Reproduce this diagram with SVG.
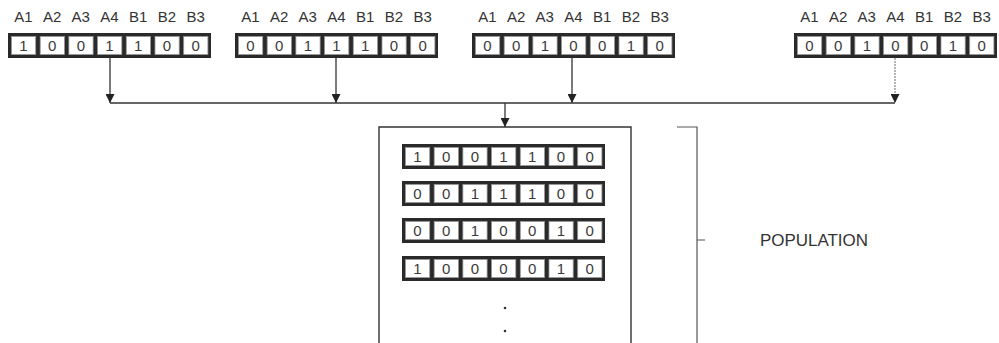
<svg xmlns="http://www.w3.org/2000/svg" xmlns:xlink="http://www.w3.org/1999/xlink" width="999" height="343" viewBox="0 0 999 343">
  <style>
    .lbl { font-family: "Liberation Sans", Arial, sans-serif; font-size: 15px; fill: #333; text-anchor: middle; }
    .bit { font-family: "Liberation Sans", Arial, sans-serif; font-size: 15px; fill: #3a3a3a; text-anchor: middle; }
    .wire { stroke: #333; stroke-width: 1.3; fill: none; }
    .faint { stroke: #777; stroke-width: 1.1; fill: none; stroke-dasharray: 2 1; }
    .frame { stroke: #333; stroke-width: 1.4; fill: none; }
    .title { font-family: "Liberation Sans", Arial, sans-serif; font-size: 16px; fill: #333; }
  </style>
  <defs>
    <!-- seven-cell chromosome strip: dark frame with white gene cells -->
    <g id="strip">
      <rect x="0" y="0" width="203" height="25" fill="#2a2a2a"/>
      <g fill="#fff" stroke="#999" stroke-width="0.8">
        <rect x="3.5" y="3.5" width="24.2" height="18"/>
        <rect x="32.2" y="3.5" width="24.2" height="18"/>
        <rect x="60.9" y="3.5" width="24.2" height="18"/>
        <rect x="89.6" y="3.5" width="24.2" height="18"/>
        <rect x="118.3" y="3.5" width="24.2" height="18"/>
        <rect x="147" y="3.5" width="24.2" height="18"/>
        <rect x="175.7" y="3.5" width="24.2" height="18"/>
      </g>
    </g>
    <marker id="arrow" viewBox="0 0 10 10" refX="10" refY="5" markerWidth="9" markerHeight="9" markerUnits="userSpaceOnUse" orient="auto">
      <path d="M0,0 L10,5 L0,10 Z" fill="#222"/>
    </marker>
  </defs>

  <rect width="999" height="343" fill="#fff"/>

  <!-- parent chromosomes -->
  <g id="chrom1">
    <text class="lbl" y="22"><tspan x="23.4">A1</tspan><tspan x="52.1">A2</tspan><tspan x="80.8">A3</tspan><tspan x="109.5">A4</tspan><tspan x="138.2">B1</tspan><tspan x="166.9">B2</tspan><tspan x="195.6">B3</tspan></text>
    <use xlink:href="#strip" href="#strip" x="8" y="33"/>
    <text class="bit" y="51"><tspan x="23.4">1</tspan><tspan x="52.1">0</tspan><tspan x="80.8">0</tspan><tspan x="109.5">1</tspan><tspan x="138.2">1</tspan><tspan x="166.9">0</tspan><tspan x="195.6">0</tspan></text>
  </g>
  <g id="chrom2">
    <text class="lbl" y="22"><tspan x="250.4">A1</tspan><tspan x="279.1">A2</tspan><tspan x="307.8">A3</tspan><tspan x="336.5">A4</tspan><tspan x="365.2">B1</tspan><tspan x="393.9">B2</tspan><tspan x="422.6">B3</tspan></text>
    <use xlink:href="#strip" href="#strip" x="235" y="33"/>
    <text class="bit" y="51"><tspan x="250.4">0</tspan><tspan x="279.1">0</tspan><tspan x="307.8">1</tspan><tspan x="336.5">1</tspan><tspan x="365.2">1</tspan><tspan x="393.9">0</tspan><tspan x="422.6">0</tspan></text>
  </g>
  <g id="chrom3">
    <text class="lbl" y="22"><tspan x="487.4">A1</tspan><tspan x="516.1">A2</tspan><tspan x="544.8">A3</tspan><tspan x="573.5">A4</tspan><tspan x="602.2">B1</tspan><tspan x="630.9">B2</tspan><tspan x="659.6">B3</tspan></text>
    <use xlink:href="#strip" href="#strip" x="472" y="33"/>
    <text class="bit" y="51"><tspan x="487.4">0</tspan><tspan x="516.1">0</tspan><tspan x="544.8">1</tspan><tspan x="573.5">0</tspan><tspan x="602.2">0</tspan><tspan x="630.9">1</tspan><tspan x="659.6">0</tspan></text>
  </g>
  <g id="chrom4">
    <text class="lbl" y="22"><tspan x="809.4">A1</tspan><tspan x="838.1">A2</tspan><tspan x="866.8">A3</tspan><tspan x="895.5">A4</tspan><tspan x="924.2">B1</tspan><tspan x="952.9">B2</tspan><tspan x="981.6">B3</tspan></text>
    <use xlink:href="#strip" href="#strip" x="794" y="33"/>
    <text class="bit" y="51"><tspan x="809.4">0</tspan><tspan x="838.1">0</tspan><tspan x="866.8">1</tspan><tspan x="895.5">0</tspan><tspan x="924.2">0</tspan><tspan x="952.9">1</tspan><tspan x="981.6">0</tspan></text>
  </g>

  <!-- population pool -->
  <g id="population">
    <path class="frame" d="M379,343 V127 H631 V343"/>
    <use xlink:href="#strip" href="#strip" x="402" y="144"/>
    <text class="bit" y="162"><tspan x="417.4">1</tspan><tspan x="446.1">0</tspan><tspan x="474.8">0</tspan><tspan x="503.5">1</tspan><tspan x="532.2">1</tspan><tspan x="560.9">0</tspan><tspan x="589.6">0</tspan></text>
    <use xlink:href="#strip" href="#strip" x="402" y="181"/>
    <text class="bit" y="199"><tspan x="417.4">0</tspan><tspan x="446.1">0</tspan><tspan x="474.8">1</tspan><tspan x="503.5">1</tspan><tspan x="532.2">1</tspan><tspan x="560.9">0</tspan><tspan x="589.6">0</tspan></text>
    <use xlink:href="#strip" href="#strip" x="402" y="218"/>
    <text class="bit" y="236"><tspan x="417.4">0</tspan><tspan x="446.1">0</tspan><tspan x="474.8">1</tspan><tspan x="503.5">0</tspan><tspan x="532.2">0</tspan><tspan x="560.9">1</tspan><tspan x="589.6">0</tspan></text>
    <use xlink:href="#strip" href="#strip" x="402" y="256"/>
    <text class="bit" y="274"><tspan x="417.4">1</tspan><tspan x="446.1">0</tspan><tspan x="474.8">0</tspan><tspan x="503.5">0</tspan><tspan x="532.2">0</tspan><tspan x="560.9">1</tspan><tspan x="589.6">0</tspan></text>
    <circle cx="505" cy="308" r="1.3" fill="#333"/>
    <circle cx="505" cy="331" r="1.3" fill="#333"/>
  </g>

  <!-- bracket and caption -->
  <g id="population-label">
    <path d="M677,127 H697 V343 M697,240 H705" stroke="#555" stroke-width="1.2" fill="none"/>
    <text class="title" x="760" y="246" textLength="108" lengthAdjust="spacingAndGlyphs">POPULATION</text>
  </g>

  <!-- connectors -->
  <g id="connectors">
    <line class="wire" x1="110" y1="58" x2="110" y2="103" marker-end="url(#arrow)"/>
    <line class="wire" x1="336" y1="58" x2="336" y2="103" marker-end="url(#arrow)"/>
    <line class="wire" x1="572" y1="58" x2="572" y2="103" marker-end="url(#arrow)"/>
    <line class="faint" x1="895" y1="58" x2="895" y2="103" marker-end="url(#arrow)"/>
    <line class="wire" x1="110" y1="103" x2="895" y2="103"/>
    <line class="wire" x1="505" y1="103" x2="505" y2="127" marker-end="url(#arrow)"/>
  </g>
</svg>
